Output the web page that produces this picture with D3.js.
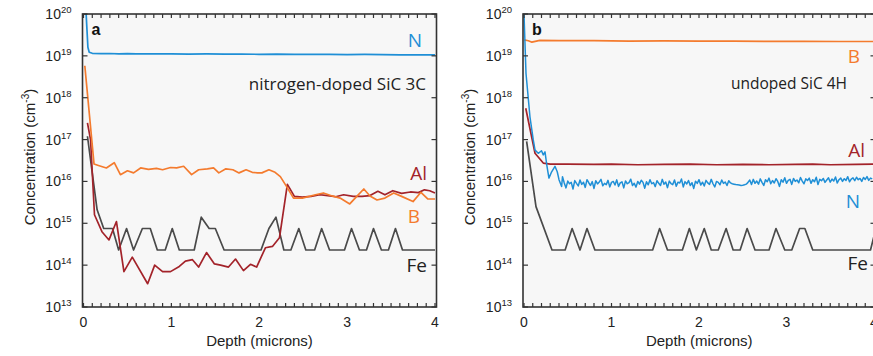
<!DOCTYPE html>
<html>
<head>
<meta charset="utf-8">
<script src="https://cdn.jsdelivr.net/npm/d3@7"></script>
<style>
  html, body { margin: 0; padding: 0; background: #ffffff; }
  svg { display: block; }
</style>
</head>
<body>
<svg id="chart" width="873" height="356"></svg>
<script>
// ---------------- DATA ----------------
const depthTicks = [0, 1, 2, 3, 4];
const depthMinorTicks = [0,0.1,0.2,0.3,0.4,0.5,0.6,0.7,0.8,0.9,1,1.1,1.2,1.3,1.4,1.5,1.6,1.7,1.8,1.9,2,
  2.1,2.2,2.3,2.4,2.5,2.6,2.7,2.8,2.9,3,3.1,3.2,3.3,3.4,3.5,3.6,3.7,3.8,3.9,4];
const concTickExps = [13, 14, 15, 16, 17, 18, 19, 20];
const panelLetters = ["a", "b"];
const panelTitles = ["nitrogen-doped SiC 3C", "undoped SiC 4H"];

// Panel a — nitrogen-doped SiC 3C  ([depth in microns, concentration in cm^-3])
const nA = [[0.03,1e20],[0.04,4e19],[0.05,1.6e19],[0.065,1.22e19],[0.1,1.15e19],[0.2,1.13e19],[0.3,1.14e19],
  [0.4,1.12e19],[0.5,1.13e19],[0.6,1.12e19],[0.8,1.11e19],[1.0,1.12e19],[1.2,1.1e19],[1.4,1.11e19],[1.6,1.1e19],
  [1.8,1.1e19],[2.0,1.09e19],[2.2,1.1e19],[2.4,1.08e19],[2.6,1.09e19],[2.8,1.08e19],[3.0,1.07e19],[3.2,1.08e19],
  [3.4,1.07e19],[3.6,1.06e19],[3.8,1.06e19],[4.0,1.05e19]];
const bA = [[0.015,5.8e18],[0.12,2.6e16],[0.17,2.4e16],[0.26,2.1e16],[0.35,2.8e16],[0.42,1.45e16],[0.50,1.8e16],
  [0.57,1.6e16],[0.65,2.1e16],[0.74,1.95e16],[0.83,2.05e16],[0.90,1.9e16],[0.99,2.15e16],[1.06,2.1e16],[1.14,2.3e16],
  [1.23,1.45e16],[1.31,1.9e16],[1.41,2.0e16],[1.48,2.1e16],[1.54,1.6e16],[1.62,2.0e16],[1.70,1.9e16],[1.77,1.6e16],
  [1.85,1.9e16],[1.92,1.65e16],[1.98,1.6e16],[2.03,1.6e16],[2.11,1.9e16],[2.18,1.65e16],[2.24,1.3e16],[2.31,7.6e15],
  [2.39,4e15],[2.49,4e15],[2.64,4.8e15],[2.73,5.3e15],[2.83,4.5e15],[2.92,4e15],[3.03,2.9e15],[3.11,4.4e15],
  [3.19,6.6e15],[3.26,4.5e15],[3.34,3.6e15],[3.43,4e15],[3.53,5.3e15],[3.62,4.4e15],[3.75,3.3e15],[3.84,5.5e15],
  [3.92,3.8e15],[4.0,3.8e15]];
const alA = [[0.045,2.5e17],[0.08,1e17],[0.125,1.6e15],[0.21,6.3e14],[0.29,4e14],[0.375,1.1e15],[0.46,7e13],
  [0.555,1.55e14],[0.73,3.6e13],[0.81,1.0e14],[0.90,7e13],[0.99,7e13],[1.09,9.3e13],[1.16,1.25e14],[1.24,1.35e14],
  [1.31,9e13],[1.40,2.0e14],[1.49,1.07e14],[1.56,1.0e14],[1.65,9e13],[1.73,1.4e14],[1.82,7.4e13],[1.90,1.05e14],
  [1.97,9e13],[2.07,2.6e14],[2.15,2.8e14],[2.23,4.5e14],[2.32,8.5e15],[2.40,4.4e15],[2.49,4.2e15],[2.59,4.4e15],
  [2.69,4.8e15],[2.78,4.6e15],[2.87,4.3e15],[2.96,4.8e15],[3.07,4.4e15],[3.17,4.4e15],[3.26,4.6e15],[3.35,5.8e15],
  [3.43,4.8e15],[3.52,6e15],[3.62,5.2e15],[3.72,5.6e15],[3.81,5.4e15],[3.88,6.3e15],[3.94,6e15],[4.0,5.3e15]];
const feA = [[0.045,1.2e17],[0.155,2.1e15],[0.23,7.5e14],[0.33,7.5e14],[0.40,2.3e14],[0.49,7.5e14],[0.57,2.3e14],
  [0.67,7.5e14],[0.76,7.5e14],[0.84,2.3e14],[0.93,2.3e14],[1.01,7.5e14],[1.09,2.3e14],[1.26,2.3e14],[1.34,1.4e15],
  [1.43,7.5e14],[1.50,7.5e14],[1.60,2.3e14],[2.02,2.3e14],[2.11,7.5e14],[2.19,1.4e15],[2.28,2.3e14],[2.36,2.3e14],
  [2.45,7.5e14],[2.53,2.3e14],[2.63,2.3e14],[2.71,7.5e14],[2.80,2.3e14],[2.97,2.3e14],[3.05,7.5e14],[3.14,2.3e14],
  [3.22,2.3e14],[3.30,7.5e14],[3.39,2.3e14],[3.47,2.3e14],[3.55,7.5e14],[3.63,2.3e14],[4.0,2.3e14]];

// Panel b — undoped SiC 4H
const bB = [[0.0,2.4e19],[0.05,2.3e19],[0.09,2.12e19],[0.18,2.35e19],[0.4,2.3e19],[0.8,2.3e19],[1.2,2.26e19],
  [1.6,2.28e19],[2.0,2.25e19],[2.4,2.24e19],[2.8,2.21e19],[3.2,2.22e19],[3.6,2.2e19],[4.0,2.2e19]];
const alB = [[0.02,5.6e17],[0.126,4.7e16],[0.22,2.75e16],[0.3,2.6e16],[0.5,2.6e16],[0.8,2.55e16],[1.0,2.6e16],
  [1.3,2.5e16],[1.6,2.55e16],[1.9,2.6e16],[2.2,2.5e16],[2.5,2.55e16],[2.8,2.5e16],[3.1,2.55e16],[3.3,2.6e16],
  [3.5,2.5e16],[3.8,2.55e16],[4.0,2.6e16]];
const nB = [[0.0,1e20],[0.023,3.8e18],[0.068,3.5e17],[0.106,9.8e16],[0.126,5.6e16],[0.163,4.7e16],[0.20,5.4e16],
  [0.22,4.3e16],[0.24,5.1e16],[0.26,2.5e16],[0.285,1.2e16],[0.316,1.7e16],[0.354,2.3e16],[0.38,1.7e16],[0.40,1.1e16],
  [0.43,7.6e15],[0.44,1.3e16],
  [0.46,0.92e16],[0.48,0.7e16],[0.50,1.02e16],[0.52,0.88e16],[0.54,0.95e16],[0.56,0.66e16],[0.58,1.05e16],[0.60,0.9e16],[0.62,0.78e16],[0.64,1.08e16],
  [0.66,0.85e16],[0.68,0.96e16],[0.70,0.72e16],[0.72,1.1e16],[0.74,0.93e16],[0.76,0.8e16],[0.78,0.99e16],[0.80,0.68e16],[0.82,1.04e16],[0.84,0.87e16],
  [0.86,0.97e16],[0.88,1.12e16],[0.90,0.79e16],[0.92,0.9e16],[0.94,0.84e16],[0.96,1.06e16],[0.98,0.74e16],[1.00,0.95e16],[1.02,1.0e16],[1.04,0.82e16],
  [1.06,1.09e16],[1.08,0.76e16],[1.10,0.92e16],[1.12,0.98e16],[1.14,0.7e16],[1.16,1.03e16],[1.18,0.88e16],[1.20,0.94e16],[1.22,1.13e16],[1.24,0.8e16],
  [1.26,0.9e16],[1.28,0.73e16],[1.30,1.0e16],[1.32,0.86e16],[1.34,1.07e16],[1.36,0.95e16],[1.38,0.69e16],[1.40,0.98e16],[1.42,0.83e16],[1.44,1.1e16],
  [1.46,0.88e16],[1.48,0.94e16],[1.50,0.75e16],[1.52,1.04e16],[1.54,0.9e16],[1.56,0.8e16],[1.58,1.12e16],[1.60,0.86e16],[1.62,0.97e16],[1.64,0.71e16],
  [1.66,1.02e16],[1.68,0.89e16],[1.70,0.84e16],[1.72,1.08e16],[1.74,0.77e16],[1.76,0.96e16],[1.78,0.92e16],[1.80,1.14e16],[1.82,0.74e16],[1.84,0.99e16],
  [1.86,0.87e16],[1.88,1.05e16],[1.90,0.8e16],[1.92,0.93e16],[1.94,0.68e16],[1.96,1.01e16],[1.98,0.9e16],[2.00,1.1e16],[2.02,0.82e16],[2.04,0.96e16],
  [2.06,0.78e16],[2.08,1.06e16],[2.10,0.92e16],[2.12,0.85e16],[2.14,1.12e16],[2.16,0.88e16],[2.18,0.74e16],[2.20,1.0e16],[2.22,0.95e16],[2.24,0.83e16],
  [2.26,1.08e16],[2.28,0.9e16],[2.30,0.97e16],[2.32,0.8e16],[2.34,1.04e16],[2.36,0.92e16],[2.38,0.88e16],[2.40,0.86e16],[2.42,0.84e16],[2.44,0.83e16],
  [2.46,0.82e16],[2.48,0.8e16],[2.50,0.81e16],[2.52,0.83e16],[2.54,0.86e16],[2.56,0.95e16],[2.58,1.08e16],[2.60,0.84e16],[2.62,1.12e16],[2.64,0.9e16],
  [2.66,1.02e16],[2.68,0.86e16],[2.70,1.15e16],[2.72,0.95e16],[2.74,0.8e16],[2.76,1.1e16],[2.78,0.98e16],[2.80,1.2e16],[2.82,0.88e16],[2.84,1.05e16],
  [2.86,0.92e16],[2.88,1.16e16],[2.90,1.0e16],[2.92,0.76e16],[2.94,1.1e16],[2.96,0.96e16],[2.98,1.22e16],[3.00,0.9e16],[3.02,1.06e16],[3.04,1.12e16],
  [3.06,0.85e16],[3.08,1.18e16],[3.10,1.0e16],[3.12,1.08e16],[3.14,0.93e16],[3.16,1.24e16],[3.18,1.02e16],[3.20,0.88e16],[3.22,1.15e16],[3.24,1.05e16],
  [3.26,1.2e16],[3.28,0.9e16],[3.30,1.1e16],[3.32,0.98e16],[3.34,1.26e16],[3.36,0.84e16],[3.38,1.12e16],[3.40,1.04e16],[3.42,1.18e16],[3.44,0.95e16],
  [3.46,1.08e16],[3.48,1.22e16],[3.50,0.96e16],[3.52,1.14e16],[3.54,1.02e16],[3.56,1.28e16],[3.58,0.92e16],[3.60,1.1e16],[3.62,1.2e16],[3.64,1.0e16],
  [3.66,1.16e16],[3.68,1.06e16],[3.70,1.3e16],[3.72,0.98e16],[3.74,1.14e16],[3.76,1.22e16],[3.78,1.04e16],[3.80,1.26e16],[3.82,1.1e16],[3.84,1.18e16],
  [3.86,1.0e16],[3.88,1.24e16],[3.90,1.12e16],[3.92,1.3e16],[3.94,1.06e16],[3.96,1.2e16],[3.98,1.15e16]];
const feB = [[0.03,9e16],[0.137,2.5e15],[0.32,2.3e14],[0.47,2.3e14],[0.55,7.5e14],[0.64,2.3e14],[0.72,7.5e14],
  [0.81,2.3e14],[1.47,2.3e14],[1.55,7.5e14],[1.64,2.3e14],[1.81,2.3e14],[1.89,7.5e14],[1.97,2.3e14],[2.06,7.5e14],
  [2.14,2.3e14],[2.22,2.3e14],[2.31,7.5e14],[2.39,2.3e14],[2.47,2.3e14],[2.55,7.5e14],[2.64,2.3e14],[2.80,2.3e14],
  [2.88,7.5e14],[2.98,2.3e14],[3.06,2.3e14],[3.15,7.5e14],[3.21,7.5e14],[3.30,2.3e14],[3.96,2.3e14],[4.0,5e14]];

// ---------------- LAYOUT ----------------
const colors = { N: "#1f8fd6", B: "#f47b2e", Al: "#a3232a", Fe: "#4a4a4a" };
const plotTop = 14, plotBottom = 307;
const panels = [
  { x0: 83.5, x1: 435, fL: 82.5, fR: 436.5,
    series: [["Fe", feA], ["Al", alA], ["B", bA], ["N", nA]],
    labels: [["N", 422, 47], ["Al", 427, 180], ["B", 420, 223], ["Fe", 427, 272]],
    title: [426, 90, 17] },
  { x0: 524, x1: 874, fL: 523, fR: 875.5,
    series: [["Fe", feB], ["Al", alB], ["B", bB], ["N", nB]],
    labels: [["B", 860, 63], ["Al", 865, 157], ["N", 860, 208], ["Fe", 868, 270]],
    title: [847, 89, 15.5] }
];

const svg = d3.select("#chart");
const tickFont = "'Liberation Sans', Arial, Helvetica, sans-serif";
const annFont = "'Open Sans', 'Noto Sans', sans-serif";
const yScale = d3.scaleLog().domain([1e13, 1e20]).range([plotBottom, plotTop]);
const defs = svg.append("defs");

panels.forEach((p, pi) => {
  const x = d3.scaleLinear().domain([0, 4]).range([p.x0, p.x1]);
  const g = svg.append("g");
  const clipId = "clip" + pi;
  defs.append("clipPath").attr("id", clipId)
    .append("rect").attr("x", p.fL).attr("y", plotTop).attr("width", p.fR - p.fL).attr("height", plotBottom - plotTop);

  g.append("rect").attr("x", p.fL).attr("y", plotTop).attr("width", p.fR - p.fL).attr("height", plotBottom - plotTop)
    .attr("fill", "#f7f7f7");

  const line = d3.line().x(d => x(d[0])).y(d => yScale(d[1]));
  const lg = g.append("g").attr("clip-path", `url(#${clipId})`);
  p.series.forEach(([name, data]) => {
    lg.append("path").datum(data).attr("d", line)
      .attr("fill", "none").attr("stroke", colors[name])
      .attr("stroke-width", name === "N" && pi === 1 ? 1.5 : 1.7)
      .attr("stroke-linejoin", "round");
  });

  g.append("rect").attr("x", p.fL).attr("y", plotTop).attr("width", p.fR - p.fL).attr("height", plotBottom - plotTop)
    .attr("fill", "none").attr("stroke", "#333").attr("stroke-width", 1.6);

  const xt = g.append("g").attr("stroke", "#333").attr("stroke-width", 1.2);
  depthMinorTicks.forEach(t => {
    xt.append("line").attr("x1", x(t)).attr("x2", x(t)).attr("y1", plotBottom).attr("y2", plotBottom - 4);
    xt.append("line").attr("x1", x(t)).attr("x2", x(t)).attr("y1", plotTop).attr("y2", plotTop + 4);
  });
  concTickExps.forEach(e => {
    const yy = yScale(Math.pow(10, e));
    xt.append("line").attr("x1", p.fL).attr("x2", p.fL + 5).attr("y1", yy).attr("y2", yy);
    xt.append("line").attr("x1", p.fR).attr("x2", p.fR - 5).attr("y1", yy).attr("y2", yy);
  });

  concTickExps.forEach(e => {
    const yy = yScale(Math.pow(10, e));
    const t = g.append("text").attr("x", p.fL - 11).attr("y", yy + 5)
      .attr("text-anchor", "end").attr("font-family", tickFont).attr("font-size", 14).attr("fill", "#222");
    t.append("tspan").text("10");
    t.append("tspan").attr("dy", -6).attr("font-size", 9.5).text(String(e));
  });
  depthTicks.forEach(d => {
    g.append("text").attr("x", x(d)).attr("y", 327).attr("text-anchor", "middle")
      .attr("font-family", tickFont).attr("font-size", 14).attr("fill", "#222").text(String(d));
  });

  g.append("text").attr("x", (p.fL + p.fR) / 2).attr("y", 346).attr("text-anchor", "middle")
    .attr("font-family", tickFont).attr("font-size", 15).attr("fill", "#222").text("Depth (microns)");
  const yt = g.append("text")
    .attr("transform", `translate(${p.fL - 48},157) rotate(-90)`)
    .attr("text-anchor", "middle").attr("font-family", tickFont).attr("font-size", 15).attr("fill", "#222");
  yt.append("tspan").text("Concentration (cm");
  yt.append("tspan").attr("dy", -6).attr("font-size", 10).text("-3");
  yt.append("tspan").attr("dy", 6).text(")");

  g.append("text").attr("x", p.fL + 9).attr("y", 35).attr("font-family", tickFont)
    .attr("font-weight", "bold").attr("font-size", 16).attr("fill", "#111").text(panelLetters[pi]);

  g.append("text").attr("x", p.title[0]).attr("y", p.title[1]).attr("text-anchor", "end")
    .attr("font-family", annFont).attr("font-size", p.title[2]).attr("fill", "#222").text(panelTitles[pi]);

  p.labels.forEach(([name, lx, ly]) => {
    g.append("text").attr("x", lx).attr("y", ly).attr("text-anchor", "end")
      .attr("font-family", annFont).attr("font-size", 19)
      .attr("fill", name === "Fe" ? "#222" : colors[name]).text(name);
  });
});
</script>
</body>
</html>
